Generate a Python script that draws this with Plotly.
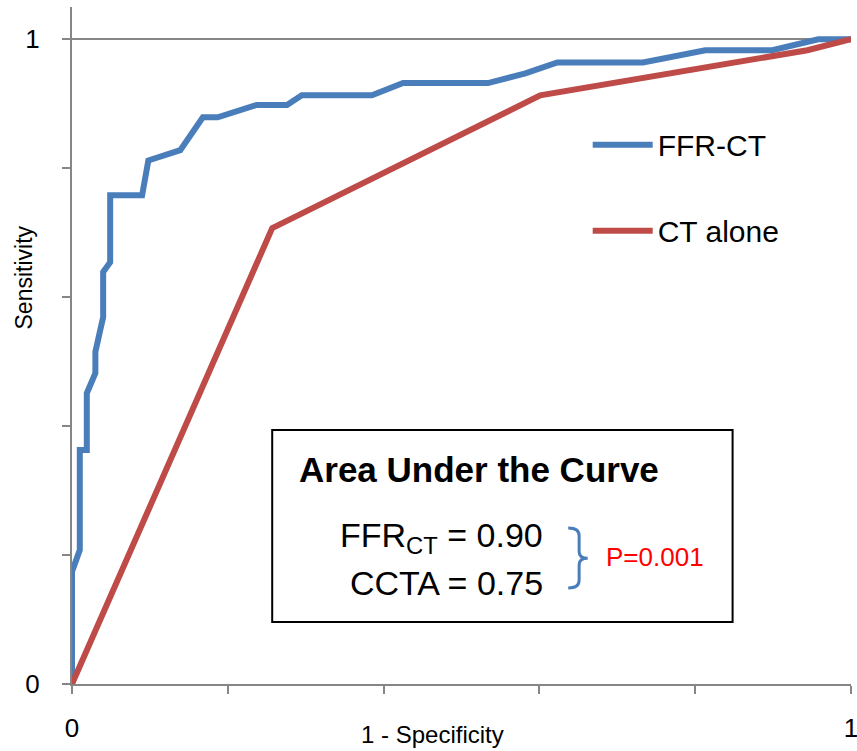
import plotly.graph_objects as go

# ROC curve coordinates (1 - specificity, sensitivity)
ffr_ct_fpr = [0.0, 0.0, 0.010, 0.010, 0.019, 0.019, 0.030, 0.030, 0.040, 0.040,
              0.049, 0.049, 0.090, 0.098, 0.139, 0.168, 0.187, 0.237, 0.276, 0.295,
              0.385, 0.425, 0.534, 0.582, 0.623, 0.733, 0.813, 0.899, 0.958, 1.0]
ffr_ct_tpr = [0.0, 0.174, 0.208, 0.363, 0.363, 0.451, 0.482, 0.515, 0.569, 0.639,
              0.654, 0.758, 0.758, 0.812, 0.828, 0.879, 0.879, 0.898, 0.898, 0.913,
              0.913, 0.932, 0.932, 0.947, 0.964, 0.964, 0.983, 0.983, 1.0, 1.0]

ct_alone_fpr = [0.0, 0.257, 0.601, 0.944, 1.0]
ct_alone_tpr = [0.0, 0.707, 0.913, 0.983, 1.0]

series_names = ["FFR-CT", "CT alone"]
series_colors = ["#4A7EBB", "#BE4B48"]

auc_labels = ["FFR<sub>CT</sub> = 0.90", "CCTA = 0.75"]
p_value_label = "P=0.001"

FONT = "Liberation Sans, Arial, sans-serif"
AXIS_GRAY = "#868686"

fig = go.Figure()
fig.add_trace(go.Scatter(x=ffr_ct_fpr, y=ffr_ct_tpr, mode="lines", name=series_names[0],
                         legendgroup="g1",
                         line=dict(color=series_colors[0], width=6)))
fig.add_trace(go.Scatter(x=ct_alone_fpr, y=ct_alone_tpr, mode="lines", name=series_names[1],
                         legendgroup="g2",
                         line=dict(color=series_colors[1], width=6)))

axis_common = dict(
    showline=True, linecolor=AXIS_GRAY, linewidth=2,
    ticks="outside", ticklen=8, tickwidth=2, tickcolor=AXIS_GRAY,
    tickvals=[0, 1], ticktext=["0", "1"],
    showgrid=True, gridcolor=AXIS_GRAY, gridwidth=2,
    zeroline=False,
    minor=dict(dtick=0.2, ticks="outside", ticklen=8, tickwidth=2,
               tickcolor=AXIS_GRAY, showgrid=False),
    tickfont=dict(family=FONT, size=26, color="black"),
    ticklabeloverflow="allow",
    automargin=False,
)

fig.update_layout(
    width=857, height=751,
    margin=dict(l=72, r=6, t=7, b=67),
    paper_bgcolor="white", plot_bgcolor="white",
    xaxis=dict(range=[0, 1], ticklabelstandoff=12, **axis_common),
    yaxis=dict(range=[0, 1.05], ticklabelstandoff=17, **axis_common),
    showlegend=True,
    legend=dict(x=0.662, y=0.835, xanchor="left", yanchor="top",
                font=dict(family=FONT, size=30, color="black"),
                itemwidth=60, tracegroupgap=44, bgcolor="rgba(0,0,0,0)"),
)

# Axis titles
fig.add_annotation(text="Sensitivity", xref="paper", yref="paper", x=-0.062, y=0.60,
                   xanchor="center", yanchor="middle",
                   textangle=-90, showarrow=False,
                   font=dict(family=FONT, size=23, color="black"))
fig.add_annotation(text="1 - Specificity", xref="paper", yref="paper", x=0.463, y=-0.074,
                   yanchor="middle", showarrow=False,
                   font=dict(family=FONT, size=24, color="black"))

# AUC summary box
fig.add_shape(type="rect", xref="x", yref="y", x0=0.257, x1=0.848, y0=0.096, y1=0.394,
              line=dict(color="black", width=2), fillcolor="white", layer="above")
fig.add_annotation(text="<b>Area Under the Curve</b>", x=0.522, y=0.332, showarrow=False,
                   font=dict(family=FONT, size=35, color="black"))
fig.add_annotation(text=auc_labels[0], x=0.607, y=0.227, xanchor="right", showarrow=False,
                   font=dict(family=FONT, size=34, color="black"))
fig.add_annotation(text=auc_labels[1], x=0.607, y=0.157, xanchor="right", showarrow=False,
                   font=dict(family=FONT, size=34, color="black"))
fig.add_annotation(text=p_value_label, x=0.683, y=0.197, xanchor="left", showarrow=False,
                   font=dict(family=FONT, size=26, color="#FF0000"))

# Curly brace joining the two AUC values
x0, xm, x1 = 0.637, 0.651, 0.662
yt, yc, yb = 0.242, 0.195, 0.149
brace = (f"M {x0},{yt} Q {xm},{yt} {xm},{yt - 0.012} L {xm},{yc + 0.010} "
         f"Q {xm},{yc} {x1},{yc} Q {xm},{yc} {xm},{yc - 0.010} "
         f"L {xm},{yb + 0.012} Q {xm},{yb} {x0},{yb}")
fig.add_shape(type="path", xref="x", yref="y", path=brace,
              line=dict(color=series_colors[0], width=3), layer="above")

fig.write_html("out.html")
